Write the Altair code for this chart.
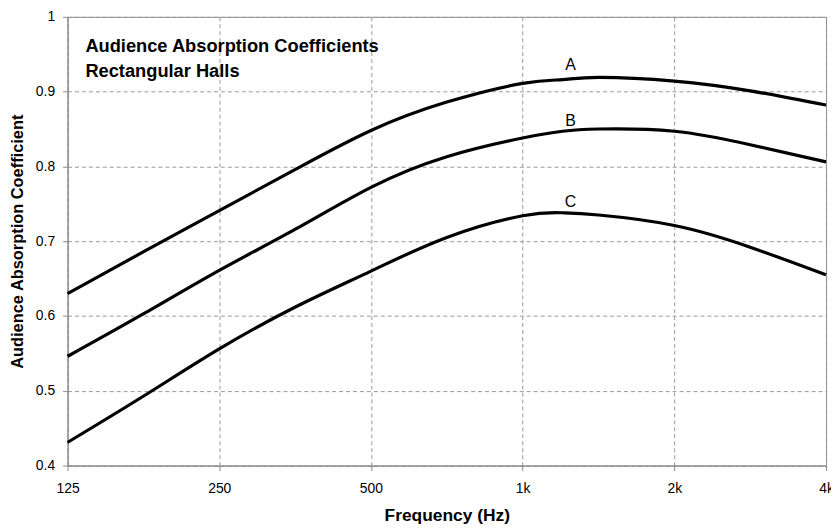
import altair as alt
import pandas as pd

freqs = [125, 177, 250, 354, 500, 707, 1000, 1200, 1414, 2000, 2828, 4000]
curve_a = [0.630, 0.686, 0.741, 0.796, 0.848, 0.886, 0.911, 0.916, 0.919, 0.914, 0.901, 0.882]
curve_b = [0.546, 0.603, 0.661, 0.716, 0.772, 0.813, 0.838, 0.847, 0.850, 0.847, 0.829, 0.806]
curve_c = [0.431, 0.493, 0.556, 0.612, 0.660, 0.705, 0.734, 0.738, 0.735, 0.721, 0.692, 0.655]
curve_names = ["A", "B", "C"]

x_ticks = [125, 250, 500, 1000, 2000, 4000]
y_ticks = [0.4, 0.5, 0.6, 0.7, 0.8, 0.9, 1.0]

label_freq = [1245, 1245, 1245]
label_vals = [0.936, 0.861, 0.753]

title_lines = ["Audience Absorption Coefficients", "Rectangular Halls"]
title_freq = [135.6, 135.6]
title_vals = [0.953, 0.919]

rows = []
for name, vals in zip(curve_names, [curve_a, curve_b, curve_c]):
    for f, v in zip(freqs, vals):
        rows.append({"curve": name, "freq": f, "value": v})
df = pd.DataFrame(rows)
labels_df = pd.DataFrame({"curve": curve_names, "freq": label_freq, "value": label_vals})
title_df = pd.DataFrame({"text": title_lines, "freq": title_freq, "value": title_vals})

FONT = "Liberation Sans"

xscale = alt.Scale(type="log", domain=[125, 4000], nice=False)
yscale = alt.Scale(domain=[0.4, 1.0], nice=False, zero=False)

xaxis = alt.Axis(
    values=x_ticks,
    labelExpr="datum.value >= 1000 ? (datum.value / 1000) + 'k' : '' + datum.value",
    title="Frequency (Hz)",
    grid=True, gridDash=[4, 3], gridColor="#999999", gridWidth=1,
    domainColor="#888888", tickColor="#888888", tickSize=5,
    labelFont=FONT, labelFontSize=14, labelColor="#000000", labelPadding=11,
    labelFlush=False, labelOverlap=False,
    titleFont=FONT, titleFontSize=17.5, titleFontWeight="bold", titleColor="#000000",
    titlePadding=11,
)
yaxis = alt.Axis(
    values=y_ticks,
    labelExpr="datum.value == 1 ? '1' : format(datum.value, '.1f')",
    title="Audience Absorption Coefficient",
    grid=True, gridDash=[4, 3], gridColor="#999999", gridWidth=1,
    domainColor="#888888", tickColor="#888888", tickSize=5,
    labelFont=FONT, labelFontSize=14, labelColor="#000000", labelPadding=8,
    labelFlush=False, labelOverlap=False,
    titleFont=FONT, titleFontSize=16.5, titleFontWeight="bold", titleColor="#000000",
    titlePadding=10,
)

lines = alt.Chart(df).mark_line(color="black", strokeWidth=3.2, interpolate="natural").encode(
    x=alt.X("freq:Q", scale=xscale, axis=xaxis),
    y=alt.Y("value:Q", scale=yscale, axis=yaxis),
    detail="curve:N",
)

labels = alt.Chart(labels_df).mark_text(
    font=FONT, fontSize=16, color="black", align="center", baseline="middle"
).encode(
    x=alt.X("freq:Q", scale=xscale),
    y=alt.Y("value:Q", scale=yscale),
    text="curve:N",
)

title = alt.Chart(title_df).mark_text(
    font=FONT, fontSize=18.4, fontWeight="bold", color="black", align="left", baseline="alphabetic"
).encode(
    x=alt.X("freq:Q", scale=xscale),
    y=alt.Y("value:Q", scale=yscale),
    text="text:N",
)

chart = alt.layer(lines, labels, title).properties(
    width=764,
    height=452,
    padding={"left": 60, "top": 7, "right": 5, "bottom": 62},
    autosize=alt.AutoSizeParams(type="none"),
).configure_view(stroke="#888888", strokeWidth=1)

chart.save("out.html", embed_options={"renderer": "svg", "actions": False})
